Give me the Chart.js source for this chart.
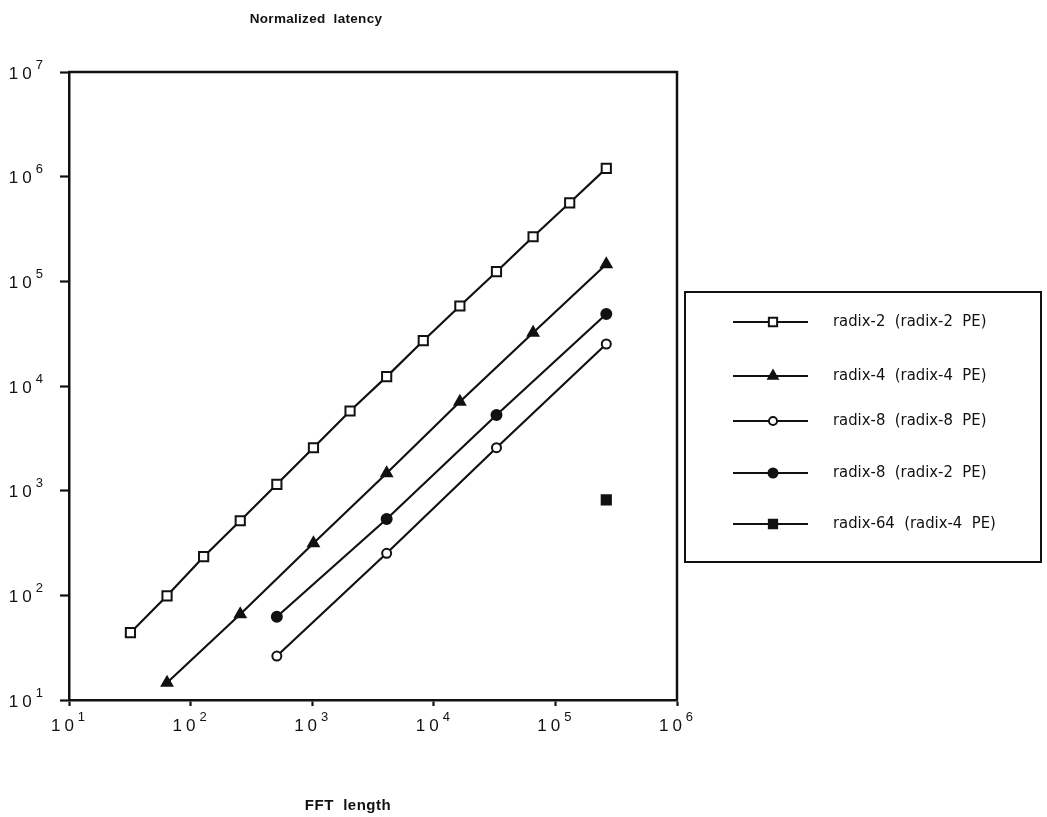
<!DOCTYPE html>
<html>
<head>
<meta charset="utf-8">
<title>Normalized latency vs FFT length</title>
<script src="https://cdn.jsdelivr.net/npm/chart.js@4/dist/chart.umd.min.js"></script>
<style>
  html, body { margin: 0; padding: 0; background: #fff; }
  #wrap { position: relative; width: 1047px; height: 817px; }
</style>
</head>
<body>
<div id="wrap"><canvas id="chart"></canvas></div>
<script>
// ── data ─────────────────────────────────────────────────────────────────────

const titleText = 'Normalized  latency';
const xTitleText = 'FFT  length';

const xTickValues = [1e1, 1e2, 1e3, 1e4, 1e5, 1e6];
const yTickValues = [1e1, 1e2, 1e3, 1e4, 1e5, 1e6, 1e7];

const seriesLabels = [
  'radix-2  (radix-2  PE)',
  'radix-4  (radix-4  PE)',
  'radix-8  (radix-8  PE)',
  'radix-8  (radix-2  PE)',
  'radix-64  (radix-4  PE)',
];

const radix2Lengths = [32, 64, 128, 256, 512, 1024, 2048, 4096, 8192, 16384, 32768, 65536, 131072, 262144];
const radix2Latency = [44, 99, 234, 516, 1150, 2570, 5770, 12300, 27100, 58100, 123600, 266800, 563000, 1200000];

const radix4Lengths = [64, 256, 1024, 4096, 16384, 65536, 262144];
const radix4Latency = [14.6, 66, 314, 1465, 7080, 32300, 145500];

const radix8Lengths = [512, 4096, 32768, 262144];
const radix8on8Latency = [26.3, 252, 2575, 25200];
const radix8on2Latency = [62.5, 536, 5280, 48700];

const radix64Lengths = [262144];
const radix64Latency = [815];

// ── helpers ──────────────────────────────────────────────────────────────────

const INK = '#111';
const TICK_FONT = '17px "Liberation Sans", Arial, sans-serif';
const EXP_FONT = '13px "Liberation Sans", Arial, sans-serif';

function pts(xs, ys) {
  return xs.map((x, i) => ({ x, y: ys[i] }));
}

function series(label, data, style) {
  return Object.assign({
    label,
    data,
    showLine: true,
    borderColor: INK,
    borderWidth: 2.2,
    pointBorderColor: INK,
    pointBorderWidth: 2,
    pointHoverRadius: 6,
    tension: 0,
  }, style);
}

function drawPower(ctx, x, y, exp, align) {
  // "10" followed by a raised, smaller exponent
  ctx.save();
  ctx.fillStyle = INK;
  ctx.textBaseline = 'middle';
  ctx.textAlign = 'left';
  ctx.font = TICK_FONT;
  ctx.letterSpacing = '4px';
  const bw = ctx.measureText('10').width - 4;
  ctx.font = EXP_FONT;
  ctx.letterSpacing = '0px';
  const ew = ctx.measureText(String(exp)).width;
  const total = bw + 4 + ew;
  let left = x;
  if (align === 'center') left = x - total / 2;
  if (align === 'right') left = x - total;
  ctx.font = TICK_FONT;
  ctx.letterSpacing = '4px';
  ctx.fillText('10', left, y);
  ctx.font = EXP_FONT;
  ctx.letterSpacing = '0px';
  ctx.fillText(String(exp), left + bw + 4, y - 9);
  ctx.restore();
}

// ── decorations: frame, tick labels, titles, legend ─────────────────────────

const decorations = {
  id: 'decorations',
  afterDraw(chart) {
    const { ctx, chartArea: a, scales } = chart;

    // top and right sides of the frame
    ctx.save();
    ctx.strokeStyle = INK;
    ctx.lineWidth = 2.5;
    ctx.beginPath();
    ctx.moveTo(a.left - 1, a.top);
    ctx.lineTo(a.right, a.top);
    ctx.lineTo(a.right, a.bottom);
    ctx.stroke();
    ctx.restore();

    yTickValues.forEach((v) => {
      const py = scales.y.getPixelForValue(v);
      drawPower(ctx, a.left - 26, py + 2, Math.round(Math.log10(v)), 'right');
    });
    xTickValues.forEach((v) => {
      const px = scales.x.getPixelForValue(v);
      drawPower(ctx, px - 1, a.bottom + 26, Math.round(Math.log10(v)), 'center');
    });

    ctx.save();
    ctx.fillStyle = INK;
    ctx.textAlign = 'center';
    ctx.textBaseline = 'middle';
    ctx.font = 'bold 13.5px "Liberation Sans", Arial, sans-serif';
    ctx.letterSpacing = '0.3px';
    ctx.fillText(titleText, 316, 19);
    ctx.font = 'bold 15px "Liberation Sans", Arial, sans-serif';
    ctx.letterSpacing = '0.5px';
    ctx.fillText(xTitleText, 348, 806);
    ctx.restore();

    // legend box
    const box = { left: 685, top: 292, right: 1041, bottom: 562 };
    const rowY = [30, 84, 129, 181, 232];
    ctx.save();
    ctx.strokeStyle = INK;
    ctx.lineWidth = 2;
    ctx.strokeRect(box.left, box.top, box.right - box.left, box.bottom - box.top);
    chart.data.datasets.forEach((ds, i) => {
      const y = box.top + rowY[i];
      ctx.strokeStyle = INK;
      ctx.lineWidth = ds.borderWidth;
      ctx.beginPath();
      ctx.moveTo(733, y);
      ctx.lineTo(808, y);
      ctx.stroke();
      ctx.fillStyle = ds.pointBackgroundColor;
      ctx.strokeStyle = INK;
      ctx.lineWidth = ds.pointBorderWidth;
      Chart.helpers.drawPoint(ctx, {
        pointStyle: ds.pointStyle,
        radius: ds.pointRadius * 0.9,
        borderWidth: ds.pointBorderWidth,
        rotation: 0,
      }, 773, y);
      ctx.fillStyle = INK;
      ctx.font = '16.5px "Liberation Sans Narrow", "DejaVu Sans Condensed", Arial, sans-serif';
      ctx.textAlign = 'left';
      ctx.textBaseline = 'middle';
      ctx.fillText(ds.label, 833, y);
    });
    ctx.restore();
  },
};

// ── chart ────────────────────────────────────────────────────────────────────

function logAxis(min, max, tickValues, tickLength) {
  return {
    type: 'logarithmic',
    min,
    max,
    afterBuildTicks: (scale) => {
      scale.ticks = tickValues.map((value) => ({ value }));
    },
    ticks: { display: false },
    grid: {
      display: true,
      drawOnChartArea: false,
      drawTicks: true,
      tickLength,
      tickWidth: 2.2,
      tickColor: INK,
    },
    border: { display: true, color: INK, width: 2.5 },
  };
}

new Chart(document.getElementById('chart'), {
  type: 'scatter',
  data: {
    datasets: [
      series(seriesLabels[0], pts(radix2Lengths, radix2Latency), {
        pointStyle: 'rect', pointRadius: 6.5, pointBackgroundColor: '#fff',
      }),
      series(seriesLabels[1], pts(radix4Lengths, radix4Latency), {
        pointStyle: 'triangle', pointRadius: 6, pointBackgroundColor: INK,
      }),
      series(seriesLabels[2], pts(radix8Lengths, radix8on8Latency), {
        pointStyle: 'circle', pointRadius: 4.5, pointBackgroundColor: '#fff',
      }),
      series(seriesLabels[3], pts(radix8Lengths, radix8on2Latency), {
        pointStyle: 'circle', pointRadius: 5, pointBackgroundColor: INK,
      }),
      series(seriesLabels[4], pts(radix64Lengths, radix64Latency), {
        pointStyle: 'rect', pointRadius: 6.5, pointBackgroundColor: INK, showLine: false,
      }),
    ],
  },
  options: {
    responsive: true,
    maintainAspectRatio: false,
    animation: false,
    layout: { padding: { left: 60, top: 72, right: 370, bottom: 111 } },
    plugins: {
      legend: { display: false },
      title: { display: false },
      tooltip: { enabled: true },
    },
    scales: {
      x: logAxis(10, 1e6, xTickValues, 6),
      y: logAxis(10, 1e7, yTickValues, 9),
    },
  },
  plugins: [decorations],
});
</script>
</body>
</html>
